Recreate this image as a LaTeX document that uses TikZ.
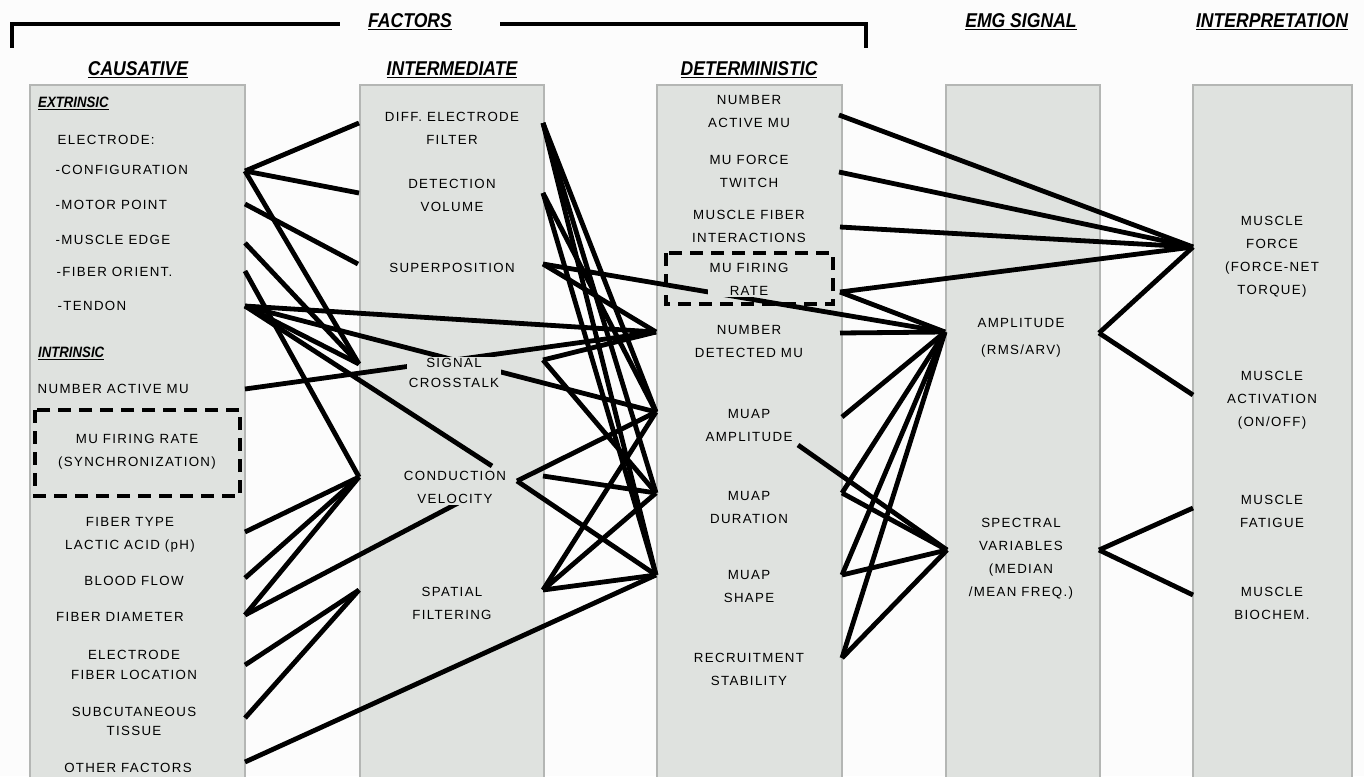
\documentclass[tikz,border=0pt]{standalone}
\usepackage{fontspec}
\setmainfont{Liberation Sans}[LetterSpace=10]
\newfontfamily\headfont{Liberation Sans}[FakeStretch=0.88]
\usetikzlibrary{calc}

\definecolor{panelgray}{HTML}{DFE2DF}
\definecolor{panelrule}{HTML}{B4B6B4}
\definecolor{paper}{HTML}{FCFCFC}

\begin{document}
\begin{tikzpicture}[x=1pt, y=-1pt,
        panel_style/.style={draw=panelrule, line width=1.3pt, fill=panelgray},
        item_style/.style={fill=panelgray, inner sep=1.5pt, align=center, font=\fontsize{13.3}{23}\selectfont},
        head_style/.style={inner sep=0pt, font=\headfont\bfseries\itshape\fontsize{20}{24}\selectfont},
        sub_style/.style={inner sep=0pt, anchor=west, font=\headfont\bfseries\itshape\fontsize{15}{18}\selectfont},
        edge_style/.style={draw=black, line width=4.8pt},
        dash_style/.style={draw=black, line width=4pt, dash pattern=on 13pt off 8pt},
        bracket_style/.style={draw=black, line width=3.6pt}]

        \useasboundingbox (0,0) rectangle (1364,776);
        \fill [paper] (0,0) rectangle (1364,776);

        % columns
        \draw [panel_style] (30,85) rectangle (245,780);
        \draw [panel_style] (360,85) rectangle (544,780);
        \draw [panel_style] (657,85) rectangle (842,780);
        \draw [panel_style] (946,85) rectangle (1100,780);
        \draw [panel_style] (1193,85) rectangle (1352,780);

        % headings
        \node [head_style] (factors) at (410,22) {\underline{FACTORS}};
        \coordinate (bl) at (12,48);
        \coordinate (blt) at (340,24);
        \coordinate (br) at (866,48);
        \coordinate (brt) at (500,24);
        \draw [bracket_style] (bl) |- (blt);
        \draw [bracket_style] (br) |- (brt);
        \node [head_style] (h1) at (138,70) {\underline{CAUSATIVE}};
        \node [head_style] (h2) at (452,70) {\underline{INTERMEDIATE}};
        \node [head_style] (h3) at (749,70) {\underline{DETERMINISTIC}};
        \node [head_style] (h4) at (1021,22) {\underline{EMG SIGNAL}};
        \node [head_style] (h5) at (1272,22) {\underline{INTERPRETATION}};

        % ports
        \coordinate (cfg) at (245,171);
        \coordinate (motor) at (245,204);
        \coordinate (edge) at (245,243);
        \coordinate (orient) at (245,271);
        \coordinate (tendon) at (245,306);
        \coordinate (namu) at (245,389);
        \coordinate (ftype) at (245,532);
        \coordinate (blood) at (245,578);
        \coordinate (fdiam) at (245,615);
        \coordinate (eloc) at (245,665);
        \coordinate (subq) at (245,718);
        \coordinate (other) at (245,762);

        \coordinate (diffL) at (359,123);
        \coordinate (detL) at (359,193);
        \coordinate (supL) at (358,264);
        \coordinate (sigL) at (359,364);
        \coordinate (condL) at (359,477);
        \coordinate (spaL) at (359,590);
        \coordinate (condT) at (492,466);
        \coordinate (condB) at (460,502);
        \coordinate (condR) at (517,481);
        \coordinate (diffR) at (543,123);
        \coordinate (detR) at (543,193);
        \coordinate (supR) at (543,264);
        \coordinate (sigR) at (543,360);
        \coordinate (condE) at (543,476);
        \coordinate (spaR) at (543,590);

        \coordinate (numdetL) at (656,332);
        \coordinate (ampL) at (656,412);
        \coordinate (durL) at (656,493);
        \coordinate (shapeL) at (656,575);
        \coordinate (namuR) at (839,115);
        \coordinate (twitchR) at (839,172);
        \coordinate (interR) at (840,227);
        \coordinate (firR) at (840,292);
        \coordinate (numdetR) at (840,333);
        \coordinate (ampR) at (842,417);
        \coordinate (ampT) at (798,445);
        \coordinate (durR) at (842,493);
        \coordinate (shapeR) at (842,575);
        \coordinate (recR) at (842,658);

        \coordinate (amplL) at (945,332);
        \coordinate (specL) at (947,550);
        \coordinate (amplR) at (1099,333);
        \coordinate (specR) at (1099,550);
        \coordinate (forceL) at (1193,247);
        \coordinate (actL) at (1193,395);
        \coordinate (fatL) at (1193,508);
        \coordinate (bioL) at (1193,595);

        % causative -> intermediate
        \draw [edge_style] (cfg) edge (diffL) edge (detL) edge (sigL);
        \draw [edge_style] (motor) edge (supL);
        \draw [edge_style] (edge) edge (sigL);
        \draw [edge_style] (orient) edge (condL);
        \draw [edge_style] (tendon) edge (sigL) edge (numdetL) edge (ampL) edge (condT);
        \draw [edge_style] (namu) edge (numdetL);
        \draw [edge_style] (ftype) edge (condL);
        \draw [edge_style] (blood) edge (condL);
        \draw [edge_style] (fdiam) edge (condL) edge (condB);
        \draw [edge_style] (eloc) edge (spaL);
        \draw [edge_style] (subq) edge (spaL);
        \draw [edge_style] (other) edge (shapeL);

        % intermediate -> deterministic
        \draw [edge_style] (diffR) edge (ampL) edge (durL) edge (shapeL);
        \draw [edge_style] (detR) edge (ampL) edge (shapeL);
        \draw [edge_style] (supR) edge (numdetL) edge (amplL);
        \draw [edge_style] (sigR) edge (numdetL) edge (durL);
        \draw [edge_style] (condR) edge (ampL) edge (shapeL);
        \draw [edge_style] (condE) edge (durL);
        \draw [edge_style] (spaR) edge (ampL) edge (durL) edge (shapeL);

        % deterministic -> EMG signal / interpretation
        \draw [edge_style] (namuR) edge (forceL);
        \draw [edge_style] (twitchR) edge (forceL);
        \draw [edge_style] (interR) edge (forceL);
        \draw [edge_style] (firR) edge (forceL) edge (amplL);
        \draw [edge_style] (numdetR) edge (amplL);
        \draw [edge_style] (ampR) edge (amplL);
        \draw [edge_style] (ampT) edge (specL);
        \draw [edge_style] (durR) edge (amplL) edge (specL);
        \draw [edge_style] (shapeR) edge (amplL) edge (specL);
        \draw [edge_style] (recR) edge (amplL) edge (specL);

        % EMG signal -> interpretation
        \draw [edge_style] (amplR) edge (forceL) edge (actL);
        \draw [edge_style] (specR) edge (fatL) edge (bioL);

        % dashed boxes
        \draw [dash_style] (35,410) rectangle (240,496);
        \draw [dash_style] (666,253) rectangle (833,304);

        % causative items
        \node [sub_style] (extr) at (38,103) {\underline{EXTRINSIC}};
        \node [item_style, anchor=west] (c1) at (56,140) {ELECTRODE:};
        \node [item_style, anchor=west] (c2) at (54,170) {-CONFIGURATION};
        \node [item_style, anchor=west] (c3) at (54,205) {-MOTOR POINT};
        \node [item_style, anchor=west] (c4) at (54,240) {-MUSCLE EDGE};
        \node [item_style, anchor=west] (c5) at (55,272) {-FIBER ORIENT.};
        \node [item_style, anchor=west] (c6) at (56,306) {-TENDON};
        \node [sub_style] (intr) at (38,353) {\underline{INTRINSIC}};
        \node [item_style, anchor=west] (c7) at (36,389) {NUMBER ACTIVE MU};
        \node [item_style] (c8) at (137,452) {MU FIRING RATE\\(SYNCHRONIZATION)};
        \node [item_style] (c9) at (130,535) {FIBER TYPE\\LACTIC ACID (pH)};
        \node [item_style] (c10) at (134,581) {BLOOD FLOW};
        \node [item_style] (c11) at (120,617) {FIBER DIAMETER};
        \node [item_style] (c12) at (134,665) {ELECTRODE\\[-3pt]FIBER LOCATION};
        \node [item_style] (c13) at (134,721) {SUBCUTANEOUS\\[-4pt]TISSUE};
        \node [item_style] (c14) at (128,768) {OTHER FACTORS};

        % intermediate items
        \node [item_style] (i1) at (452,128) {DIFF. ELECTRODE\\FILTER};
        \node [item_style] (i2) at (452,195) {DETECTION\\VOLUME};
        \node [item_style] (i3) at (452,268) {SUPERPOSITION};
        \node [item_style] (i4) at (454,373) {SIGNAL\\[-3pt]CROSSTALK};
        \node [item_style] (i5) at (455,487) {CONDUCTION\\VELOCITY};
        \node [item_style] (i6) at (452,603) {SPATIAL\\FILTERING};

        % deterministic items
        \node [item_style] (d1) at (749,111) {NUMBER\\ACTIVE MU};
        \node [item_style] (d2) at (749,171) {MU FORCE\\TWITCH};
        \node [item_style] (d3) at (749,226) {MUSCLE FIBER\\INTERACTIONS};
        \node [item_style] (d4) at (749,279) {MU FIRING\\RATE};
        \node [item_style] (d5) at (749,341) {NUMBER\\DETECTED MU};
        \node [item_style] (d6) at (749,425) {MUAP\\AMPLITUDE};
        \node [item_style] (d7) at (749,507) {MUAP\\DURATION};
        \node [item_style] (d8) at (749,586) {MUAP\\SHAPE};
        \node [item_style] (d9) at (749,669) {RECRUITMENT\\STABILITY};

        % EMG signal items
        \node [item_style] (e1) at (1021,338) {AMPLITUDE\\[4pt](RMS/ARV)};
        \node [item_style] (e2) at (1021,559) {SPECTRAL\\VARIABLES\\(MEDIAN\\/MEAN FREQ.)};

        % interpretation items
        \node [item_style] (p1) at (1272,257) {MUSCLE\\FORCE\\(FORCE-NET\\TORQUE)};
        \node [item_style] (p2) at (1272,400) {MUSCLE\\ACTIVATION\\(ON/OFF)};
        \node [item_style] (p3) at (1272,511) {MUSCLE\\FATIGUE};
        \node [item_style] (p4) at (1272,603) {MUSCLE\\BIOCHEM.};

\end{tikzpicture}
\end{document}
